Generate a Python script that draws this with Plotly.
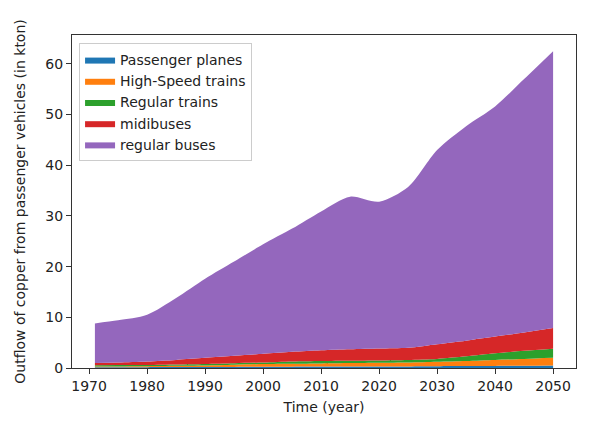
import plotly.graph_objects as go

years = [1971, 1975, 1980, 1985, 1990, 1995, 2000, 2005, 2010, 2015, 2020, 2025, 2030, 2035, 2040, 2045, 2050]

passenger_planes = [0.15, 0.15, 0.17, 0.18, 0.20, 0.22, 0.25, 0.27, 0.28, 0.29, 0.30, 0.32, 0.35, 0.38, 0.40, 0.45, 0.50]
high_speed_trains = [0.15, 0.17, 0.18, 0.24, 0.30, 0.43, 0.55, 0.58, 0.62, 0.69, 0.75, 0.78, 0.90, 1.02, 1.20, 1.35, 1.50]
regular_trains = [0.25, 0.25, 0.25, 0.28, 0.30, 0.30, 0.30, 0.45, 0.50, 0.47, 0.45, 0.50, 0.55, 0.90, 1.30, 1.60, 1.80]
midibuses = [0.45, 0.53, 0.70, 0.90, 1.20, 1.45, 1.70, 1.90, 2.10, 2.25, 2.35, 2.40, 2.90, 3.10, 3.30, 3.60, 4.10]
regular_buses = [7.8, 8.3, 9.2, 12.2, 15.6, 18.6, 21.6, 24.3, 27.4, 30.1, 28.95, 31.7, 38.3, 42.3, 45.4, 50.0, 54.6]

series_names = ["Passenger planes", "High-Speed trains", "Regular trains", "midibuses", "regular buses"]
series_values = [passenger_planes, high_speed_trains, regular_trains, midibuses, regular_buses]
colors = ["#1f77b4", "#ff7f0e", "#2ca02c", "#d62728", "#9467bd"]

fig = go.Figure()
for name, vals, col in zip(series_names, series_values, colors):
    fig.add_trace(go.Scatter(
        x=years, y=vals, name=name, mode="lines",
        stackgroup="one", line=dict(width=0, color=col, shape="spline", smoothing=0.8),
        fillcolor=col,
    ))

axis_common = dict(
    showline=True, linecolor="#333333", linewidth=1, mirror=True,
    ticks="outside", ticklen=5, tickcolor="#333333", tickwidth=1,
    showgrid=False, zeroline=False, automargin=False,
    tickfont=dict(size=14, color="#222222"),
)

fig.update_layout(
    width=594, height=421,
    paper_bgcolor="white", plot_bgcolor="white",
    font=dict(family="DejaVu Sans", size=14, color="#222222"),
    margin=dict(l=64, r=26, t=27, b=61),
    xaxis=dict(range=[1967.05, 2053.95], tickmode="array",
               tickvals=[1970, 1980, 1990, 2000, 2010, 2020, 2030, 2040, 2050],
               title=dict(text="Time (year)", font=dict(size=14), standoff=9), **axis_common),
    yaxis=dict(range=[0, 65.7], tickmode="array", tickvals=[0, 10, 20, 30, 40, 50, 60],
               title=dict(text="Outflow of copper from passenger vehicles (in kton)", font=dict(size=14), standoff=16),
               **axis_common),
    legend=dict(x=0.014, y=0.976, xanchor="left", yanchor="top",
                bgcolor="rgba(255,255,255,0.8)", bordercolor="#cccccc", borderwidth=1,
                traceorder="normal", font=dict(size=14), tracegroupgap=3),
    showlegend=True,
)

fig.write_html("out.html")
